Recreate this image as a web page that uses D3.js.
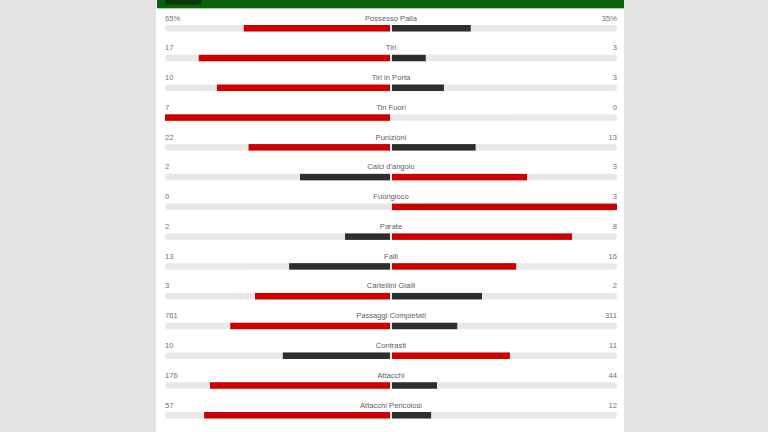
<!DOCTYPE html>
<html><head><meta charset="utf-8">
<script src="https://cdn.jsdelivr.net/npm/d3@7"></script>
<style>
html,body{margin:0;padding:0;background:#e4e4e4;}
svg{display:block;}
</style></head>
<body>
<script>
const categories = ["Possesso Palla","Tiri","Tiri in Porta","Tiri Fuori","Punizioni","Calci d'angolo","Fuorigioco","Parate","Falli","Cartellini Gialli","Passaggi Completati","Contrasti","Attacchi","Attacchi Pericolosi"];
const homeValues = [65,17,10,7,22,2,0,2,13,3,761,10,176,57];
const awayValues = [35,3,3,0,13,3,3,8,16,2,311,11,44,12];
const homeLabels = ["65%","17","10","7","22","2","0","2","13","3","761","10","176","57"];
const awayLabels = ["35%","3","3","0","13","3","3","8","16","2","311","11","44","12"];

const W = 768, H = 432;
const svg = d3.select("body").append("svg").attr("width", W).attr("height", H);

const panelX0 = 156, panelX1 = 624;
svg.append("rect").attr("x", panelX0).attr("y", 0).attr("width", panelX1 - panelX0).attr("height", H).attr("fill", "#ffffff");
svg.append("rect").attr("x", panelX0 + 1).attr("y", 0).attr("width", panelX1 - panelX0 - 1).attr("height", 8).attr("fill", "#0b600b");
svg.append("rect").attr("x", panelX0 + 1).attr("y", 8).attr("width", panelX1 - panelX0 - 1).attr("height", 1).attr("fill", "#a8d8a8");
svg.append("rect").attr("x", 165).attr("y", 0).attr("width", 36).attr("height", 5).attr("fill", "#063c06");

const trackL = 165, trackR = 617, center = 391;
const half = d3.scaleLinear().domain([0, 1]).range([0, center - 1 - trackL]);
const y = d3.scaleBand().domain(d3.range(categories.length)).range([8.5, 8.5 + 29.77 * categories.length]);

const rows = svg.selectAll("g.row").data(categories).join("g").attr("class", "row")
  .attr("transform", (d, i) => `translate(0,${y(i)})`);

const font = "'Liberation Sans', Arial, sans-serif";
rows.append("text").attr("x", trackL).attr("y", 12).text((d, i) => homeLabels[i])
  .attr("font-family", font).attr("font-size", 7.6).attr("fill", "#707070");
rows.append("text").attr("x", trackR).attr("y", 12).attr("text-anchor", "end").text((d, i) => awayLabels[i])
  .attr("font-family", font).attr("font-size", 7.6).attr("fill", "#707070");
rows.append("text").attr("x", center).attr("y", 12).attr("text-anchor", "middle").text(d => d)
  .attr("font-family", font).attr("font-size", 7.6).attr("fill", "#5e5e5e");

rows.append("rect").attr("x", trackL).attr("y", 16.5).attr("width", trackR - trackL).attr("height", 6.5)
  .attr("rx", 3).attr("fill", "#e8e8e8");

rows.append("rect")
  .attr("x", (d, i) => center - 1 - half(homeValues[i] / (homeValues[i] + awayValues[i])))
  .attr("y", 16.5)
  .attr("width", (d, i) => half(homeValues[i] / (homeValues[i] + awayValues[i])))
  .attr("height", 6.5)
  .attr("fill", (d, i) => homeValues[i] >= awayValues[i] ? "#cc0000" : "#2e2e2e");

rows.append("rect")
  .attr("x", center + 1)
  .attr("y", 16.5)
  .attr("width", (d, i) => half(awayValues[i] / (homeValues[i] + awayValues[i])))
  .attr("height", 6.5)
  .attr("fill", (d, i) => awayValues[i] > homeValues[i] ? "#cc0000" : "#2e2e2e");
</script>
</body></html>
